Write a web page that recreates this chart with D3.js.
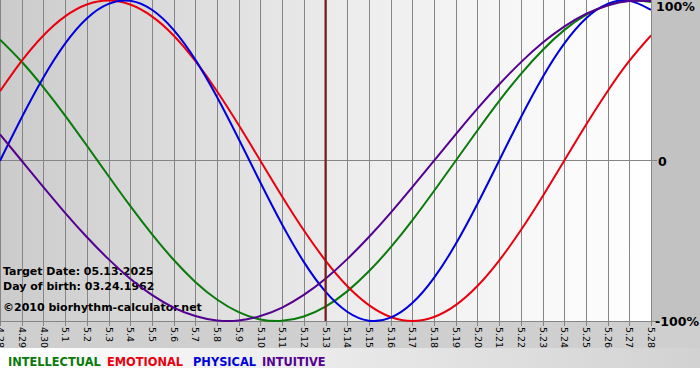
<!DOCTYPE html>
<html><head><meta charset="utf-8">
<script src="https://cdn.jsdelivr.net/npm/d3@7"></script>
<style>html,body{margin:0;padding:0;background:#fff;}svg{display:block;}</style>
</head><body>
<svg id="c" width="700" height="380"></svg>
<script>
const dayLabels = ["4.28","4.29","4.30","5.1","5.2","5.3","5.4","5.5","5.6","5.7","5.8","5.9","5.10","5.11","5.12","5.13","5.14","5.15","5.16","5.17","5.18","5.19","5.20","5.21","5.22","5.23","5.24","5.25","5.26","5.27","5.28"];
const physical = [0,0.270,0.520,0.731,0.888,0.979,0.998,0.942,0.817,0.631,0.398,0.136,-0.136,-0.398,-0.631,-0.817,-0.942,-0.998,-0.979,-0.888,-0.731,-0.520,-0.270,0,0.270,0.520,0.731,0.888,0.979,0.998,0.942];
const emotional = [0.434,0.623,0.782,0.901,0.975,1,0.975,0.901,0.782,0.623,0.434,0.223,0,-0.223,-0.434,-0.623,-0.782,-0.901,-0.975,-1,-0.975,-0.901,-0.782,-0.623,-0.434,-0.223,0,0.223,0.434,0.623,0.782];
const intellectual = [0.756,0.618,0.458,0.282,0.095,-0.095,-0.282,-0.458,-0.618,-0.756,-0.866,-0.945,-0.990,-0.999,-0.972,-0.910,-0.815,-0.690,-0.541,-0.372,-0.189,0,0.189,0.372,0.541,0.690,0.815,0.910,0.972,0.999,0.990];
const intuitive = [0.165,0,-0.165,-0.325,-0.476,-0.614,-0.736,-0.837,-0.916,-0.969,-0.997,-0.997,-0.969,-0.916,-0.837,-0.736,-0.614,-0.476,-0.325,-0.165,0,0.165,0.325,0.476,0.614,0.736,0.837,0.916,0.969,0.997,0.997];
const yTickValues = [1,0,-1];
const yTickLabels = ["100%","0","-100%"];
const targetIndex = 15;
const infoLines = ["Target Date: 05.13.2025","Day of birth: 03.24.1962","\u00a92010 biorhythm-calculator.net"];
const legendNames = ["INTELLECTUAL","EMOTIONAL","PHYSICAL","INTUITIVE"];

const series = [
  {name:"INTELLECTUAL", values:intellectual, color:"#0a7a0a"},
  {name:"EMOTIONAL", values:emotional, color:"#e8000e"},
  {name:"PHYSICAL", values:physical, color:"#0000dd"},
  {name:"INTUITIVE", values:intuitive, color:"#540090"}
];

const svg = d3.select("#c");
const W = 700, H = 380;
const plot = {l:0, t:0, r:651, b:321};
const x = d3.scaleLinear().domain([0, dayLabels.length-1]).range([plot.l, plot.r]);
const y = d3.scaleLinear().domain([-1,1]).range([plot.b, plot.t+0.5]);

const defs = svg.append("defs");
const g1 = defs.append("linearGradient").attr("id","bg").attr("x1","0").attr("x2","1").attr("y1","0").attr("y2","0");
g1.append("stop").attr("offset","0").attr("stop-color","#cbcbcb");
g1.append("stop").attr("offset","0.55").attr("stop-color","#ededed");
g1.append("stop").attr("offset","1").attr("stop-color","#ffffff");
const g2 = defs.append("linearGradient").attr("id","lg").attr("x1","0").attr("x2","1").attr("y1","0").attr("y2","0");
g2.append("stop").attr("offset","0").attr("stop-color","#ffffff");
g2.append("stop").attr("offset","1").attr("stop-color","#d2d2d2");
defs.append("clipPath").attr("id","clip").append("rect")
  .attr("x",plot.l).attr("y",plot.t).attr("width",plot.r-plot.l).attr("height",plot.b-plot.t+1);

// backgrounds
svg.append("rect").attr("x",0).attr("y",0).attr("width",W).attr("height",368).attr("fill","#c2c2c2");
svg.append("rect").attr("x",0).attr("y",plot.b).attr("width",W).attr("height",27).attr("fill","#cfcfcf");
svg.append("rect").attr("x",0).attr("y",348).attr("width",W).attr("height",20).attr("fill","url(#lg)");
svg.append("rect").attr("x",0).attr("y",368).attr("width",W).attr("height",12).attr("fill","#ffffff");
svg.append("rect").attr("x",plot.l).attr("y",plot.t).attr("width",plot.r-plot.l).attr("height",plot.b-plot.t).attr("fill","url(#bg)");

// vertical grid + ticks
const xAxis = d3.axisBottom(x).tickValues(d3.range(dayLabels.length)).tickFormat(i=>dayLabels[i]).tickSize(plot.b-plot.t+5).tickPadding(0);
const xg = svg.append("g").attr("transform",`translate(0,${plot.t})`).call(xAxis);
xg.select(".domain").remove();
xg.selectAll(".tick line").attr("stroke","#858585").attr("stroke-width",1).attr("shape-rendering","crispEdges");
xg.selectAll(".tick text")
  .attr("transform",`translate(0,${plot.b-plot.t+5}) rotate(90)`)
  .attr("x",1).attr("y",0).attr("dy","0.35em")
  .attr("text-anchor","start")
  .attr("font-family","DejaVu Sans, Verdana, sans-serif").attr("font-size","9.5px").attr("fill","#000");

// horizontal lines
svg.append("line").attr("x1",plot.l).attr("x2",plot.r+6).attr("y1",y(0)).attr("y2",y(0))
  .attr("stroke","#858585").attr("shape-rendering","crispEdges");
svg.append("line").attr("x1",plot.l).attr("x2",plot.r+6).attr("y1",plot.b).attr("y2",plot.b)
  .attr("stroke","#858585").attr("shape-rendering","crispEdges");

// y labels
svg.selectAll("text.yl").data(yTickValues).enter().append("text").attr("class","yl")
  .attr("x",(d,i)=> i===1 ? 658 : (i===0 ? 656 : 655))
  .attr("y",d=>Math.max(y(d),6)).attr("dy","0.38em")
  .attr("font-family","DejaVu Sans, Verdana, sans-serif").attr("font-weight","bold").attr("font-size","12.6px")
  .attr("fill","#000").text((d,i)=>yTickLabels[i]);

// info text
svg.selectAll("text.info").data(infoLines).enter().append("text").attr("class","info")
  .attr("x",3).attr("y",(d,i)=>[275,290,311][i])
  .attr("font-family","DejaVu Sans, Verdana, sans-serif").attr("font-weight","bold")
  .attr("font-size","11px").attr("fill","#000").text(d=>d);

// curves
const line = d3.line().x((d,i)=>x(i)).y(d=>y(d)).curve(d3.curveNatural);
const cg = svg.append("g").attr("clip-path","url(#clip)");
series.forEach(s=>{
  cg.append("path").attr("d",line(s.values)).attr("fill","none").attr("stroke",s.color).attr("stroke-width",2);
});

// target line
svg.append("line").attr("x1",x(targetIndex)).attr("x2",x(targetIndex)).attr("y1",plot.t).attr("y2",plot.b)
  .attr("stroke","#7e1a1a").attr("stroke-width",2);

// legend
const legX = [8,107,193,262];
svg.selectAll("text.leg").data(series).enter().append("text").attr("class","leg")
  .attr("x",(d,i)=>legX[i]).attr("y",366)
  .attr("font-family","DejaVu Sans, Verdana, sans-serif").attr("font-weight","bold").attr("font-size","11.4px")
  .attr("fill",d=>d.color).text((d,i)=>legendNames[i]);
</script>
</body></html>
